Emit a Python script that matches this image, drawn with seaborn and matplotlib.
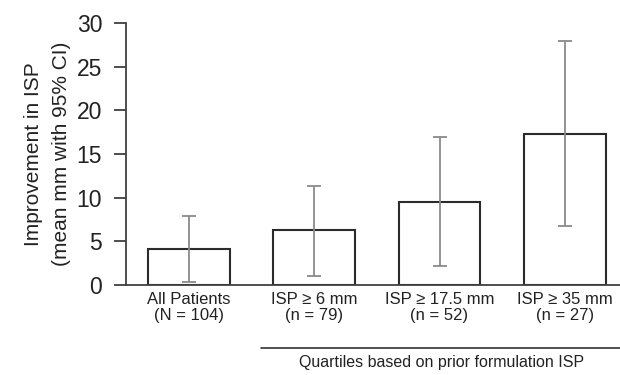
import matplotlib
matplotlib.use('Agg')
import matplotlib.pyplot as plt
import seaborn as sns
import numpy as np

groups = ['All Patients\n(N = 104)', 'ISP ≥ 6 mm\n(n = 79)',
          'ISP ≥ 17.5 mm\n(n = 52)', 'ISP ≥ 35 mm\n(n = 27)']
means = [4.1, 6.3, 9.5, 17.3]
ci_low = [0.3, 1.0, 2.2, 6.7]
ci_high = [7.9, 11.3, 16.9, 27.9]

sns.set_style('white')
plt.rcParams['font.family'] = ['Liberation Sans', 'DejaVu Sans']

fig = plt.figure(figsize=(6.2, 3.75), dpi=100)
ax = fig.add_axes([0.203, 0.24, 0.797, 0.6987])

sns.barplot(x=groups, y=means, color='white', edgecolor='#2b2b2b',
            linewidth=1.5, width=0.65, ax=ax)

m = np.array(means)
yerr = [m - np.array(ci_low), np.array(ci_high) - m]
ax.errorbar(range(len(groups)), m, yerr=yerr, fmt='none', ecolor='#8a8a8a',
            elinewidth=1.3, capsize=5, capthick=1.3, zorder=5)

ax.set_ylim(0, 30)
ax.set_xlim(-0.503, 3.44)
ax.set_yticks(range(0, 31, 5))
sns.despine(ax=ax)
for s in ['left', 'bottom']:
    ax.spines[s].set_color('#404040')
    ax.spines[s].set_linewidth(1.3)
ax.tick_params(axis='y', direction='out', length=9, width=1.3, color='#404040',
               labelsize=16.5, pad=8, left=True, labelcolor='#222222')
ax.tick_params(axis='x', length=0, labelsize=12, pad=5, labelcolor='#222222')
for lab in ax.get_xticklabels():
    lab.set_linespacing(1.05)

ax.set_ylabel('Improvement in ISP\n(mean mm with 95% CI)', fontsize=15,
              color='#222222', labelpad=4, linespacing=1.6)

tr = ax.get_xaxis_transform()
ax.plot([0.575, 3.44], [-0.2405, -0.2405], transform=tr, color='#333333',
        lw=1.2, clip_on=False)
ax.text(2.02, -0.294, 'Quartiles based on prior formulation ISP', transform=tr,
        ha='center', va='center', fontsize=11.5, color='#222222')

fig.savefig('out.png', dpi=100)
